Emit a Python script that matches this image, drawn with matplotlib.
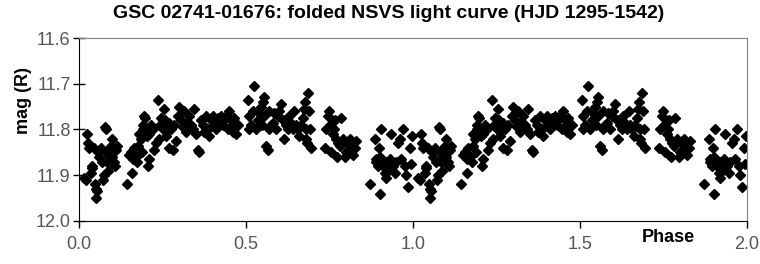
import matplotlib.pyplot as plt

plt.rcParams["font.family"] = ["Liberation Sans", "DejaVu Sans"]

# folded phase (0-1) and R magnitude
phase = [
    0.015, 0.02, 0.025, 0.028, 0.03, 0.035, 0.038, 0.04, 0.045, 0.048, 0.05, 0.052, 0.055, 0.058, 0.06,
    0.065, 0.07, 0.072, 0.075, 0.078, 0.08, 0.082, 0.085, 0.088, 0.09, 0.095, 0.098, 0.10, 0.102, 0.105, 0.108, 0.11, 0.115,
    0.145, 0.15, 0.155, 0.16, 0.162, 0.165, 0.17, 0.175, 0.178, 0.18, 0.185, 0.188, 0.19, 0.192, 0.195, 0.198, 0.20, 0.202, 0.205, 0.208,
    0.21, 0.215, 0.22, 0.225, 0.23, 0.235, 0.24, 0.242, 0.245, 0.25, 0.255, 0.258, 0.26, 0.265, 0.268, 0.27, 0.275, 0.28, 0.285, 0.29, 0.295, 0.30,
    0.305, 0.31, 0.315, 0.32, 0.322, 0.325, 0.33, 0.335, 0.34, 0.345, 0.35, 0.355, 0.36, 0.365, 0.37, 0.375, 0.38, 0.385, 0.39, 0.395, 0.40,
    0.405, 0.41, 0.415, 0.42, 0.425, 0.43, 0.435, 0.44, 0.445, 0.45, 0.455, 0.46, 0.462, 0.465, 0.47, 0.475,
    0.505, 0.508, 0.51, 0.515, 0.52, 0.525, 0.53, 0.535, 0.54, 0.545, 0.548, 0.55, 0.553, 0.555, 0.56, 0.565, 0.568, 0.57, 0.575, 0.58, 0.585, 0.59,
    0.595, 0.60, 0.605, 0.61, 0.615, 0.62, 0.625, 0.63, 0.635, 0.64, 0.645, 0.65, 0.655, 0.66, 0.665, 0.67, 0.672, 0.675, 0.678, 0.68, 0.682, 0.685, 0.688, 0.69, 0.695,
    0.735, 0.74, 0.745, 0.748, 0.75, 0.755, 0.76, 0.762, 0.765, 0.77, 0.772, 0.775, 0.78, 0.785, 0.79, 0.795, 0.80, 0.805, 0.81, 0.815, 0.82, 0.825, 0.83,
    0.87, 0.885, 0.888, 0.89, 0.895, 0.898, 0.90, 0.902, 0.905, 0.91, 0.915, 0.918, 0.92, 0.925, 0.93, 0.935, 0.94, 0.945, 0.95, 0.955, 0.96, 0.965,
    0.97, 0.975, 0.98, 0.985, 0.99, 0.995, 0.998,
]
mag = [
    11.905, 11.91, 11.81, 11.83, 11.84, 11.895, 11.885, 11.88, 11.84, 11.92, 11.93, 11.95, 11.935, 11.85, 11.86,
    11.84, 11.87, 11.91, 11.90, 11.795, 11.80, 11.85, 11.87, 11.89, 11.86, 11.835, 11.82, 11.86, 11.875, 11.87, 11.88, 11.845, 11.835,
    11.92, 11.855, 11.85, 11.895, 11.865, 11.84, 11.86, 11.87, 11.835, 11.81, 11.82, 11.85, 11.80, 11.79, 11.77, 11.775, 11.80, 11.815, 11.88, 11.865,
    11.81, 11.79, 11.80, 11.845, 11.83, 11.735, 11.82, 11.79, 11.775, 11.80, 11.755, 11.78, 11.815, 11.80, 11.84, 11.785, 11.80, 11.845, 11.79, 11.825, 11.77, 11.75,
    11.78, 11.795, 11.76, 11.805, 11.785, 11.80, 11.77, 11.79, 11.80, 11.755, 11.81, 11.845, 11.85, 11.78, 11.79, 11.805, 11.77, 11.80, 11.815, 11.78, 11.77,
    11.79, 11.80, 11.775, 11.785, 11.77, 11.79, 11.78, 11.77, 11.80, 11.76, 11.78, 11.79, 11.805, 11.775, 11.81, 11.79,
    11.735, 11.77, 11.80, 11.79, 11.76, 11.705, 11.80, 11.78, 11.765, 11.75, 11.79, 11.74, 11.73, 11.77, 11.835, 11.845, 11.80, 11.76, 11.79, 11.785, 11.765, 11.80,
    11.77, 11.76, 11.745, 11.78, 11.82, 11.79, 11.80, 11.77, 11.785, 11.80, 11.76, 11.79, 11.80, 11.815, 11.79, 11.775, 11.755, 11.74, 11.80, 11.82, 11.83, 11.72, 11.76, 11.80, 11.84,
    11.84, 11.80, 11.77, 11.76, 11.79, 11.85, 11.81, 11.80, 11.78, 11.82, 11.86, 11.83, 11.835, 11.775, 11.82, 11.86, 11.85, 11.83, 11.82, 11.84, 11.855, 11.84, 11.825,
    11.92, 11.82, 11.865, 11.87, 11.88, 11.84, 11.86, 11.94, 11.80, 11.88, 11.895, 11.87, 11.905, 11.89, 11.865, 11.81, 11.88, 11.895, 11.87, 11.83, 11.82, 11.865,
    11.80, 11.88, 11.90, 11.925, 11.84, 11.875, 11.815,
]

# the light curve is shown over two cycles
phase2 = phase + [p + 1 for p in phase]
mag2 = mag + mag

fig = plt.figure(figsize=(7.6, 2.64), dpi=100)
ax = fig.add_axes([0.104, 0.163, 0.879, 0.693])

ax.plot(phase2, mag2, linestyle="none", marker="D", markersize=5,
        color="black", markeredgecolor="black")

ax.set_xlim(0, 2.0)
ax.set_ylim(12.0, 11.6)
ax.set_xticks([0.0, 0.5, 1.0, 1.5, 2.0])
ax.set_xticklabels(["0.0", "0.5", "1.0", "1.5", "2.0"])
ax.set_yticks([11.6, 11.7, 11.8, 11.9, 12.0])
ax.set_yticklabels(["11.6", "11.7", "11.8", "11.9", "12.0"])

ax.tick_params(axis="y", direction="inout", length=8, width=1, labelsize=13,
               labelcolor="#555555", pad=2)
ax.tick_params(axis="x", direction="out", length=5, width=1, labelsize=13,
               labelcolor="#555555", pad=6)

ax.spines["left"].set_color("black")
ax.spines["bottom"].set_color("black")
ax.spines["top"].set_color("#808080")
ax.spines["right"].set_color("#808080")

fig.suptitle("GSC 02741-01676: folded NSVS light curve (HJD 1295-1542)",
             x=0.511, y=0.947, va="center", fontsize=14, fontweight="bold")
ax.set_ylabel("mag (R)", fontsize=13, fontweight="bold")
ax.yaxis.set_label_coords(-0.07, 0.66)
ax.text(0.882, -0.09, "Phase", transform=ax.transAxes, fontsize=13,
        fontweight="bold", ha="center", va="center")

plt.savefig("out.png", dpi=100)
